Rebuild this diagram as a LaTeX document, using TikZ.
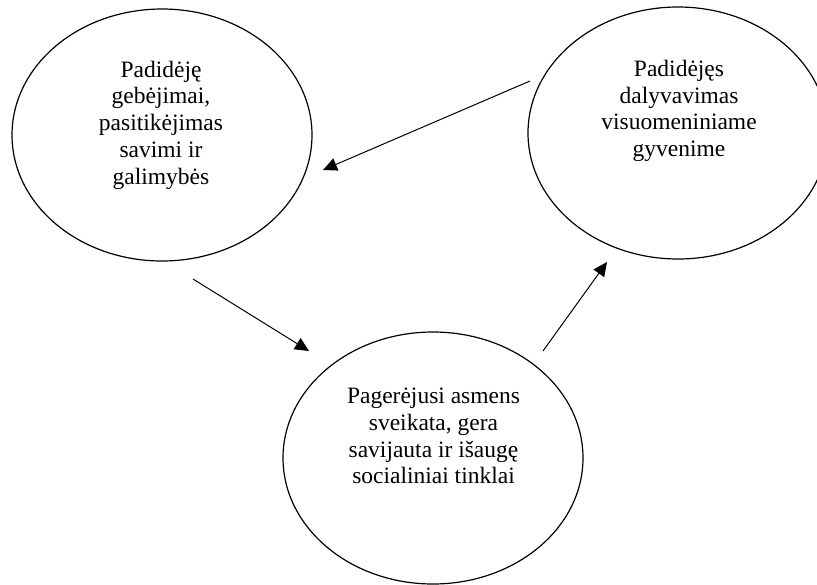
\documentclass[tikz,border=0pt]{standalone}
\usepackage{fontspec}
\setmainfont{Liberation Serif}
\usetikzlibrary{shapes.geometric,arrows.meta}
\begin{document}
\begin{tikzpicture}[x=1pt,y=-1pt,
  oval/.style={draw,ellipse,line width=1.2pt,minimum width=300pt,minimum height=252pt,inner sep=0pt},
  txt/.style={align=center,inner sep=0pt,font=\fontsize{23.5}{26.7}\selectfont},
  flow/.style={line width=1pt,-{Triangle[length=14pt,width=13pt]}}]
\useasboundingbox (0,0) rectangle (817,584);
\clip (0,0) rectangle (817,584);
\node[oval] (left) at (162,135) {};
\node[oval] (right) at (678,133) {};
\node[oval] (bottom) at (433,458) {};
\node[txt] (lefttext) at (161,125) {Padidėję\\gebėjimai,\\pasitikėjimas\\savimi ir\\galimybės};
\node[txt] (righttext) at (679,111) {Padidėjęs\\dalyvavimas\\visuomeniniame\\gyvenime};
\node[txt] (bottomtext) at (433.5,436) {Pagerėjusi asmens\\sveikata, gera\\savijauta ir išaugę\\socialiniai tinklai};
\coordinate (a1s) at (530,81);
\coordinate (a1e) at (323,170);
\coordinate (a2s) at (193,279);
\coordinate (a2e) at (309,351);
\coordinate (a3s) at (543,351);
\coordinate (a3e) at (607,262);
\draw[flow] (a1s) -- (a1e);
\draw[flow] (a2s) -- (a2e);
\draw[flow] (a3s) -- (a3e);
\end{tikzpicture}
\end{document}
